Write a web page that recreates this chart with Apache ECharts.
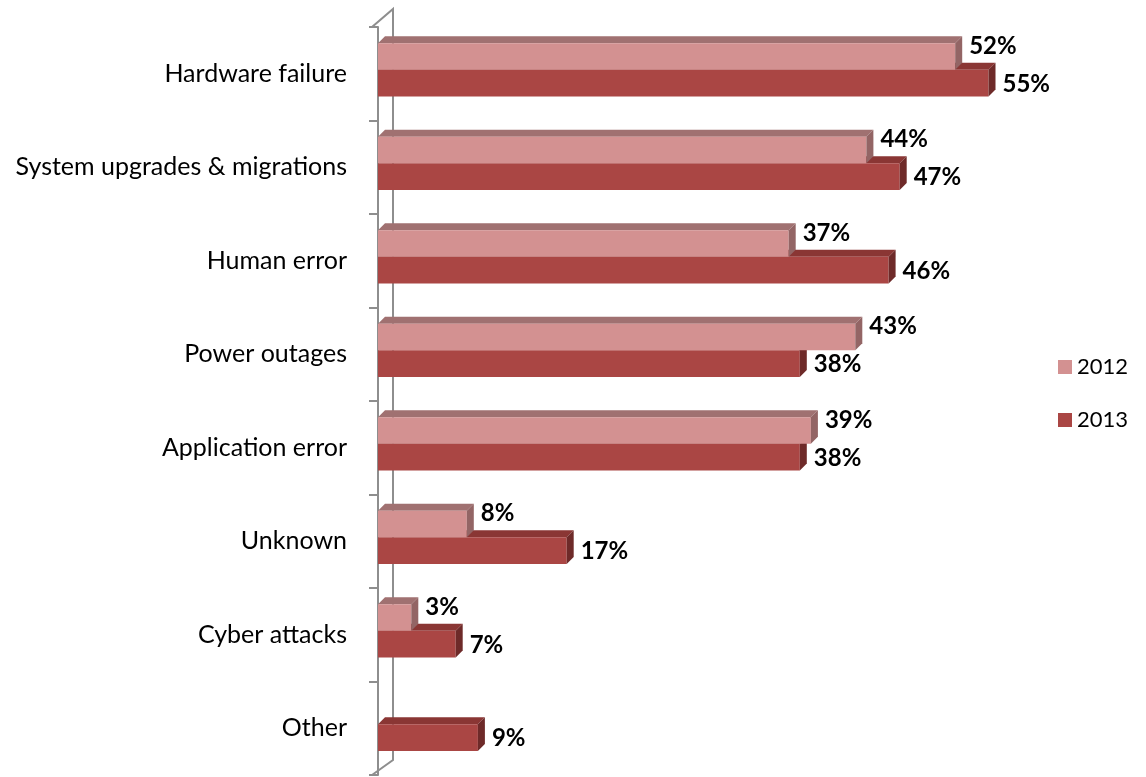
<!DOCTYPE html>
<html>
<head>
<meta charset="utf-8">
<script src="https://cdn.jsdelivr.net/npm/echarts@6/dist/echarts.min.js"></script>
<style>
  html, body { margin: 0; padding: 0; background: #fff; }
  #chart { width: 1146px; height: 777px; }
</style>
</head>
<body>
<div id="chart"></div>
<script>
// Causes of downtime, share of respondents (%)
const categories = [
  'Hardware failure',
  'System upgrades & migrations',
  'Human error',
  'Power outages',
  'Application error',
  'Unknown',
  'Cyber attacks',
  'Other'
];
const values2012 = [52, 44, 37, 43, 39, 8, 3, null];
const values2013 = [55, 47, 46, 38, 38, 17, 7, 9];
const seriesNames = ['2012', '2013'];

// Face colours for the pseudo-3D bars: front, top, side
const palette = {
  '2012': { front: '#d39191', top: '#a07171', side: '#936565' },
  '2013': { front: '#aa4644', top: '#8a3634', side: '#6e2a29' }
};

const FONT = 'Lato, "Open Sans", sans-serif';
const DEPTH_X = 7, DEPTH_Y = 7;

function makeRender(name) {
  const c = palette[name];
  const upper = name === '2012';
  return function (params, api) {
    const v = api.value(1);
    if (v === null || v === undefined || isNaN(v)) return null;
    const ci = api.value(0);
    const p0 = api.coord([0, ci]);
    const p1 = api.coord([v, ci]);
    const band = api.size([0, 1])[1];
    const h = band * 0.285;
    const split = p0[1] - band * 0.042;
    const top = upper ? split - h : split;
    const bottom = top + h;
    const x0 = p0[0], x1 = p1[0];
    const children = [
      { type: 'polygon', shape: { points: [[x0, top], [x0 + DEPTH_X, top - DEPTH_Y], [x1 + DEPTH_X, top - DEPTH_Y], [x1, top]] },
        style: { fill: c.top } },
      { type: 'rect', shape: { x: x0, y: top, width: x1 - x0, height: h },
        style: { fill: c.front } },
      { type: 'polygon', shape: { points: [[x1, top], [x1 + DEPTH_X, top - DEPTH_Y], [x1 + DEPTH_X, bottom - DEPTH_Y], [x1, bottom]] },
        style: { fill: c.side } },
      { type: 'text', style: {
          text: v + '%', x: x1 + 14, y: upper ? top + 3 : (top + bottom) / 2 + 1,
          verticalAlign: 'middle', align: 'left',
          font: 'bold 24px ' + FONT, fill: '#000' } }
    ];
    return { type: 'group', children: children };
  };
}

function toData(arr) {
  return arr.map((v, i) => [i, v === null ? '-' : v]);
}

const chart = echarts.init(document.getElementById('chart'));
chart.setOption({
  animation: false,
  backgroundColor: '#fff',
  grid: { left: 378, right: 102, top: 27, bottom: 2 },
  xAxis: {
    type: 'value', min: 0, max: 60, show: false
  },
  yAxis: {
    type: 'category', data: categories, inverse: true, offset: 6,
    axisLine: { show: true, lineStyle: { color: '#8e8e8e', width: 2 } },
    axisTick: { show: true, length: 9, lineStyle: { color: '#8e8e8e', width: 2 } },
    axisLabel: { margin: 25, color: '#000', fontFamily: FONT, fontSize: 25 },
    splitLine: { show: false }
  },
  legend: {
    orient: 'vertical', left: 1053, top: 350,
    data: seriesNames, icon: 'rect', itemWidth: 14, itemHeight: 14, itemGap: 29,
    textStyle: { color: '#000', fontFamily: FONT, fontSize: 22, lineHeight: 24 }
  },
  graphic: [{
    type: 'polyline', silent: true,
    shape: { points: [[372, 27], [393, 9], [393, 760], [372, 775]] },
    style: { stroke: '#8e8e8e', lineWidth: 2, fill: null }
  }],
  series: [
    { name: '2012', type: 'custom', z: 3, data: toData(values2012),
      encode: { x: 1, y: 0 }, itemStyle: { color: palette['2012'].front },
      renderItem: makeRender('2012') },
    { name: '2013', type: 'custom', z: 2, data: toData(values2013),
      encode: { x: 1, y: 0 }, itemStyle: { color: palette['2013'].front },
      renderItem: makeRender('2013') }
  ]
});
</script>
</body>
</html>
